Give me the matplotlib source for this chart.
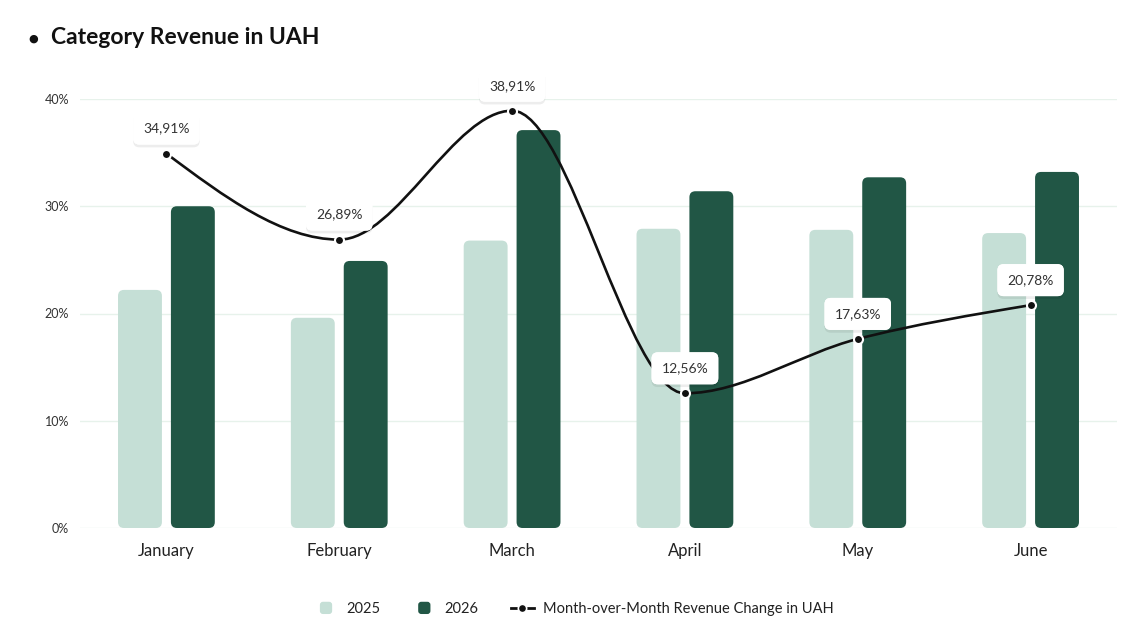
import numpy as np
import matplotlib
matplotlib.use("Agg")
import matplotlib.pyplot as plt
from matplotlib.patches import FancyBboxPatch, PathPatch
from matplotlib.path import Path
from matplotlib.lines import Line2D
from matplotlib.legend_handler import HandlerBase
import matplotlib.patheffects as pe

# data
months = ["January", "February", "March", "April", "May", "June"]
rev_2025 = [22.2, 19.6, 26.8, 27.9, 27.8, 27.5]
rev_2026 = [30.0, 24.9, 37.1, 31.4, 32.7, 33.2]
mom_change = [34.91, 26.89, 38.91, 12.56, 17.63, 20.78]
y_ticks = [0, 10, 20, 30, 40]

c_light = "#c5dfd6"
c_dark = "#215645"
c_line = "#111111"
c_grid = "#e7f2eb"
c_text = "#333333"

plt.rcParams["font.family"] = ["Lato", "DejaVu Sans"]

fig = plt.figure(figsize=(11.48, 6.23), dpi=100)
ax = fig.add_axes([80 / 1148, 1 - 528 / 623, (1117 - 80) / 1148, (528 - 99) / 623])
ax.set_xlim(-0.5, 5.5)
ax.set_ylim(0, 40)

x = np.arange(len(months))
w = 0.254
off = 0.153

# aspect for rounded corners (y units per px / x units per px)
px_x = 1 / 173.2
px_y = 1 / 10.725
asp = px_y / px_x
rad = 6 * px_x


def rounded_bars(vals, xpos, color):
    bars = ax.bar(xpos, vals, width=w, color=color)
    for b in bars:
        bx, by = b.get_x(), b.get_y()
        bw, bh = b.get_width(), b.get_height()
        b.remove()
        p = FancyBboxPatch((bx, by), bw, bh,
                           boxstyle=f"round,pad=0,rounding_size={rad}",
                           mutation_aspect=asp, facecolor=color,
                           edgecolor="none", zorder=2)
        ax.add_patch(p)


rounded_bars(rev_2025, x - off, c_light)
rounded_bars(rev_2026, x + off, c_dark)

# monotone cubic curve (like d3 monotoneX) drawn as bezier segments
y = np.array(mom_change, dtype=float)
h = 1.0
s = np.diff(y) / h
t = np.zeros(len(y))
for i in range(1, len(y) - 1):
    s0, s1 = s[i - 1], s[i]
    if s0 * s1 <= 0:
        t[i] = 0
    else:
        p = (s0 + s1) / 2
        t[i] = (np.sign(s0) + np.sign(s1)) * min(abs(s0), abs(s1), 0.5 * abs(p))
t[0] = (3 * s[0] - t[1]) / 2
t[-1] = (3 * s[-1] - t[-2]) / 2

verts = [(x[0], y[0])]
codes = [Path.MOVETO]
for i in range(len(y) - 1):
    verts += [(x[i] + h / 3, y[i] + t[i] * h / 3),
              (x[i + 1] - h / 3, y[i + 1] - t[i + 1] * h / 3),
              (x[i + 1], y[i + 1])]
    codes += [Path.CURVE4] * 3
ax.add_patch(PathPatch(Path(verts, codes), facecolor="none", edgecolor=c_line,
                       lw=1.9, zorder=4, capstyle="round", clip_on=False))
ax.plot(x, y, "o", color=c_line, markersize=6.5, markeredgecolor="white",
        markeredgewidth=1.5, zorder=5, clip_on=False)

for xi, yi in zip(x, mom_change):
    lbl = f"{yi:.2f}".replace(".", ",") + "%"
    tx = ax.annotate(lbl, (xi, yi), xytext=(0, 18), textcoords="offset points",
                     ha="center", va="center", fontsize=10, color=c_text,
                     zorder=6, annotation_clip=False,
                     bbox=dict(boxstyle="round,pad=0.72,rounding_size=0.45",
                               facecolor="white", edgecolor="none"))
    tx.get_bbox_patch().set_path_effects(
        [pe.withSimplePatchShadow(offset=(0, -2), shadow_rgbFace="#000000",
                                  alpha=0.07), pe.Normal()])

# axes styling
ax.set_yticks(y_ticks)
ax.set_yticklabels([f"{v}%" for v in y_ticks])
ax.set_xticks(x)
ax.set_xticklabels(months)
ax.tick_params(axis="y", length=0, pad=8, labelsize=9, labelcolor=c_text)
ax.tick_params(axis="x", length=0, pad=11, labelsize=12, labelcolor="#222222")
ax.grid(axis="y", color=c_grid, lw=1, zorder=0)
ax.set_axisbelow(True)
for sp in ax.spines.values():
    sp.set_visible(False)

# title
fig.text(33 / 1148, 1 - 39 / 623, "\u25CF", fontsize=8, ha="center", va="center",
         color="#111111", family=["DejaVu Sans"])
fig.text(51 / 1148, 1 - 38 / 623, "Category Revenue in UAH", fontsize=16.5,
         fontweight="bold", ha="left", va="center", color="#111111")


class RoundSquareHandler(HandlerBase):
    def create_artists(self, legend, orig, xd, yd, width, height, fontsize, trans):
        sz = height * 1.2
        p = FancyBboxPatch((xd + (width - sz) / 2, yd + (height - sz) / 2), sz, sz,
                           boxstyle=f"round,pad=0,rounding_size={sz * 0.25}",
                           facecolor=orig.get_facecolor(), edgecolor="none",
                           transform=trans)
        return [p]


h1 = FancyBboxPatch((0, 0), 1, 1, facecolor=c_light)
h2 = FancyBboxPatch((0, 0), 1, 1, facecolor=c_dark)
h3 = Line2D([0], [0], color=c_line, lw=2, marker="o", markersize=6,
            markeredgecolor="white", markeredgewidth=1.2)
fig.legend([h1, h2, h3], ["2025", "2026", "Month-over-Month Revenue Change in UAH"],
           loc="center", bbox_to_anchor=(0.5, 1 - 609 / 623), ncol=3,
           frameon=False, fontsize=10.5, labelcolor="#222222",
           handler_map={FancyBboxPatch: RoundSquareHandler()},
           handlelength=1.6, handletextpad=0.6, columnspacing=2.2)

fig.savefig("out.png", dpi=100)
